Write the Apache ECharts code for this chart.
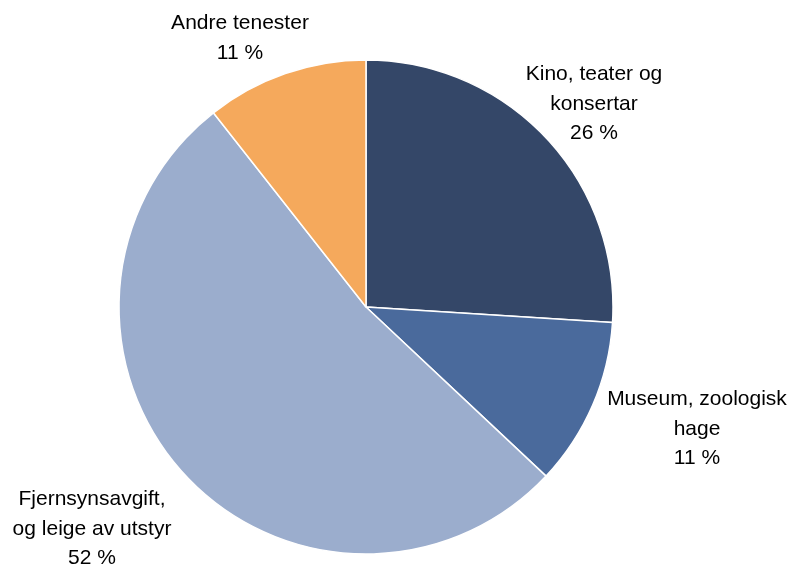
<!DOCTYPE html>
<html>
<head>
<meta charset="utf-8">
<script src="https://cdn.jsdelivr.net/npm/echarts@6/dist/echarts.min.js"></script>
<style>
  html, body { margin: 0; padding: 0; background: #fff; }
  #chart { width: 790px; height: 567px; }
</style>
</head>
<body>
<div id="chart"></div>
<script>
  // spending shares, clockwise from 12 o'clock
  var categories = ['Kino, teater og\nkonsertar', 'Museum, zoologisk\nhage', 'Fjernsynsavgift,\nog leige av utstyr', 'Andre tenester'];
  var shares = [26.0, 11.0, 52.4, 10.6];
  var colors = ['#344768', '#4a6a9c', '#9badcd', '#f5a95c'];

  // where each label sits (centre of text block), in px
  var labelSpots = [[594, 104], [697, 429], [92, 529], [240, 38]];

  var chart = echarts.init(document.getElementById('chart'));

  var option = {
    animation: false,
    series: [{
      type: 'pie',
      center: [366, 307],
      radius: 247,
      startAngle: 90,
      clockwise: true,
      data: categories.map(function (name, i) {
        return { name: name, value: shares[i], itemStyle: { color: colors[i] } };
      }),
      itemStyle: { borderColor: '#fff', borderWidth: 1.5 },
      label: {
        show: true,
        position: 'outside',
        alignTo: 'none',
        overflow: 'none',
        formatter: function (p) { return p.name + '\n' + Math.round(p.percent) + ' %'; },
        fontFamily: 'Liberation Sans, Arial, sans-serif',
        fontSize: 21,
        lineHeight: 29.5,
        color: '#000'
      },
      labelLine: { show: false },
      labelLayout: function (p) {
        var s = labelSpots[p.dataIndex];
        return { x: s[0], y: s[1], align: 'center', verticalAlign: 'middle' };
      },
      emphasis: { disabled: true }
    }]
  };

  chart.setOption(option);
</script>
</body>
</html>
